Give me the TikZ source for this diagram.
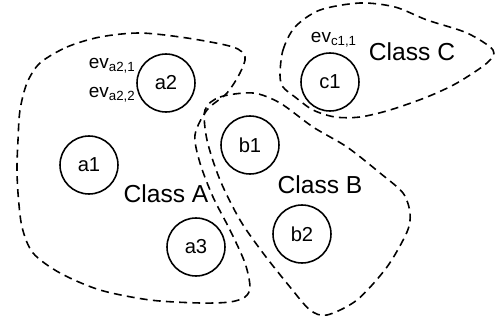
\documentclass[tikz,border=0pt]{standalone}
\usepackage{fontspec}
\setmainfont{Liberation Sans}
\usetikzlibrary{positioning}

\begin{document}
\begin{tikzpicture}[x=0.02cm, y=-0.02cm, event/.style={
        circle,
        draw=black,
        minimum size=1.16cm,
        inner sep=0pt,
        line width=0.9pt,
        font=\fontsize{11.5}{13}\selectfont
    }, classname/.style={
        font=\fontsize{14}{16}\selectfont
    }, evlabel/.style={
        inner sep=0pt,
        font=\fontsize{10.8}{12}\selectfont
    }, classline/.style={
        line width=0.9pt, dash pattern=on 4.5pt off 3pt
    }]
    \useasboundingbox (0,0) rectangle (495,335);
    \node (a2) [event] at (166,83) {a2};
    \node (a1) [event] at (89,165) {a1};
    \node (a3) [event] at (196,247) {a3};
    \node (b1) [event] at (250,145) {b1};
    \node (b2) [event] at (302,234) {b2};
    \node (c1) [event] at (330,82) {c1};
    \node (eva21) [evlabel, anchor=east] at (136,66) {ev\textsubscript{a2,1}};
    \node (eva22) [evlabel, anchor=east] at (136,95) {ev\textsubscript{a2,2}};
    \node (evc11) [evlabel] at (334,40) {ev\textsubscript{c1,1}};
    \node (classa) [classname] at (166,194) {Class A};
    \node (classb) [classname] at (320,185) {Class B};
    \node (classc) [classname] at (412,52) {Class C};
    % class outlines
    \draw [classline] plot [smooth cycle] coordinates {(40,63) (67,47) (100,37) (140,33) (187,38) (233,47) (245,57) (240,73) (227,93) (207,110) (195,135) (200,163) (213,197) (230,230) (245,263) (250,287) (245,297) (230,302) (200,303) (150,300) (100,290) (60,273) (33,253) (22,227) (18,193) (17,167) (18,140) (20,110) (27,83)};
    \draw [classline] plot [smooth cycle] coordinates {(205,110) (220,97) (253,93) (280,103) (313,127) (347,147) (380,173) (403,193) (410,213) (407,232) (387,267) (357,300) (327,315) (310,310) (290,287) (263,253) (240,220) (220,180) (207,140)};
    \draw [classline] plot [smooth cycle] coordinates {(280,75) (283,50) (295,27) (320,10) (360,3) (395,7) (427,20) (467,33) (493,50) (487,63) (457,83) (427,97) (390,110) (360,117) (335,117) (313,110) (295,97) (283,87)};
\end{tikzpicture}
\end{document}
